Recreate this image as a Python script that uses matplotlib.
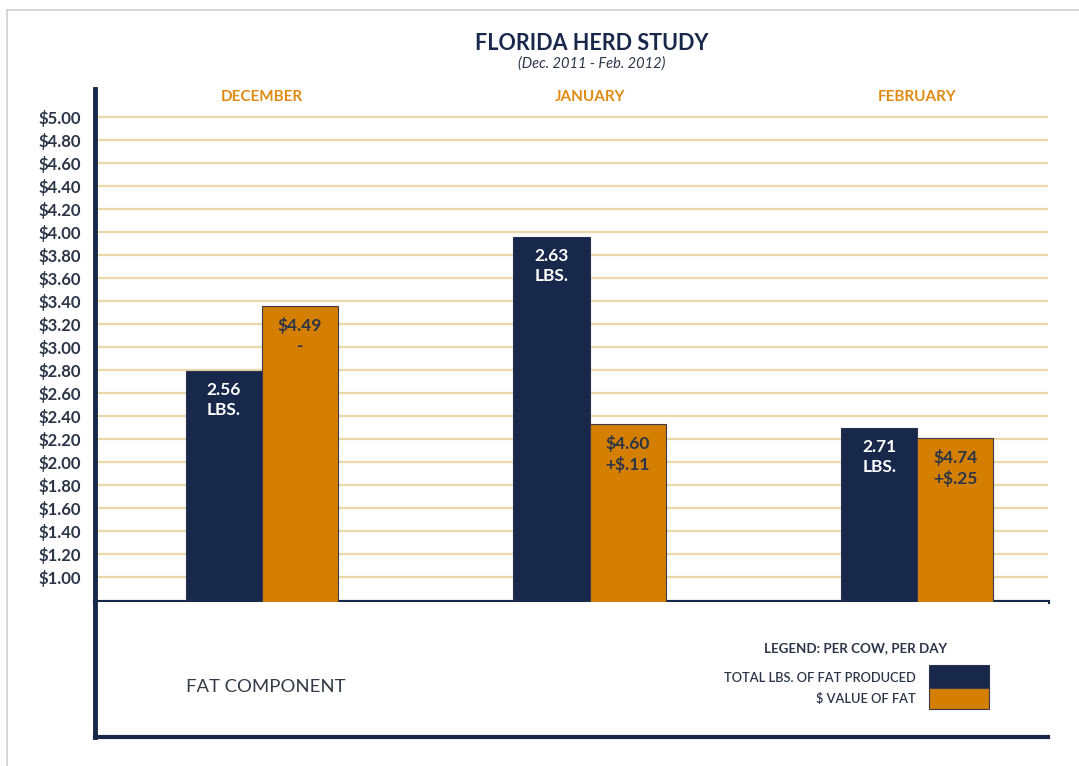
import matplotlib
matplotlib.use("Agg")
import matplotlib.pyplot as plt
from matplotlib.patches import Rectangle
from matplotlib.lines import Line2D
import numpy as np

# data
months = ["DECEMBER", "JANUARY", "FEBRUARY"]
lbs_heights = [2.79, 3.96, 2.30]      # navy bar tops on the $ scale
value_heights = [3.36, 2.33, 2.21]    # orange bar tops on the $ scale
lbs_labels = ["2.56", "2.63", "2.71"]
value_labels = ["$4.49", "$4.60", "$4.74"]
change_labels = ["-", "+$.11", "+$.25"]
yticks = np.round(np.arange(1.0, 5.01, 0.2), 2)

NAVY = "#17284b"
ORANGE = "#d47f00"
GRID = "#ebd8a8"
TEXT = "#2b3547"
plt.rcParams["font.family"] = ["Lato", "DejaVu Sans"]

W, H = 1079, 766
fig = plt.figure(figsize=(W / 100, H / 100), dpi=100)

def fx(x):
    return x / W

def fy(y):
    return 1 - y / H

# light gray frame
fig.add_artist(Line2D([fx(7), fx(7)], [fy(10), 0], color="#d0d0d0", lw=1.2))
fig.add_artist(Line2D([fx(7), 1], [fy(10), fy(10)], color="#d0d0d0", lw=1.2))

# main chart
ax = fig.add_axes([fx(95), fy(602), fx(1048) - fx(95), fy(89) - fy(602)])
x = np.arange(len(months))
w = 0.232
ax.bar(x - w / 2, lbs_heights, w, color=NAVY, edgecolor="#2a3350", lw=0.8, zorder=3)
ax.bar(x + w / 2, value_heights, w, color=ORANGE, edgecolor="#3a3a4a", lw=0.8, zorder=3)
ax.set_xlim(-0.509, 2.399)
ax.set_ylim(0.783, 5.243)
ax.set_yticks(yticks)
ax.set_yticklabels(["$%.2f" % v for v in yticks], fontsize=12, fontweight="bold", color=TEXT)
ax.tick_params(axis="y", length=0, pad=10)
ax.set_xticks([])
for v in yticks:
    ax.axhline(v, color=GRID, lw=1.6, zorder=1)
for s in ["top", "right"]:
    ax.spines[s].set_visible(False)
ax.spines["left"].set_color(NAVY)
ax.spines["left"].set_linewidth(3.5)
ax.spines["bottom"].set_color(NAVY)
ax.spines["bottom"].set_linewidth(3)

for i in range(len(months)):
    ax.annotate(lbs_labels[i] + "\nLBS.", (x[i] - w / 2, lbs_heights[i]),
                xytext=(0, -8), textcoords="offset points", ha="center", va="top",
                color="white", fontsize=12.5, fontweight="bold", linespacing=1.3, zorder=4)
    ax.annotate(value_labels[i] + "\n" + change_labels[i], (x[i] + w / 2, value_heights[i]),
                xytext=(0, -8), textcoords="offset points", ha="center", va="top",
                color=TEXT, fontsize=12.5, fontweight="bold", linespacing=1.3, zorder=4)
    ax.text(x[i], 5.17, months[i], ha="center", va="center", color="#e08a10",
            fontsize=11, fontweight="bold")

# lower section with legend
ax2 = fig.add_axes([fx(95), fy(737), fx(1048) - fx(95), fy(602) - fy(737)])
ax2.set_xlim(95, 1048)
ax2.set_ylim(737, 602)
ax2.set_xticks([])
ax2.set_yticks([])
for s in ["top", "right"]:
    ax2.spines[s].set_visible(False)
ax2.spines["left"].set_color(NAVY)
ax2.spines["left"].set_linewidth(3.5)
ax2.spines["bottom"].set_color(NAVY)
ax2.spines["bottom"].set_linewidth(3)
ax2.text(266, 687, "FAT COMPONENT", ha="center", va="center", color="#333a45", fontsize=13.3)
ax2.text(855, 648, "LEGEND: PER COW, PER DAY", ha="center", va="center", color=TEXT,
         fontsize=9.6, fontweight="bold")
ax2.text(916, 678, "TOTAL LBS. OF FAT PRODUCED", ha="right", va="center", color=TEXT,
         fontsize=9.3, fontweight="semibold")
ax2.text(916, 699, "$ VALUE OF FAT", ha="right", va="center", color=TEXT,
         fontsize=9.3, fontweight="semibold")
ax2.add_patch(Rectangle((929, 665), 60, 23, facecolor=NAVY, edgecolor="#2a3350", lw=0.8))
ax2.add_patch(Rectangle((929, 688), 60, 21, facecolor=ORANGE, edgecolor="#3a3a4a", lw=0.8))

# titles
fig.text(fx(592), fy(43), "FLORIDA HERD STUDY", ha="center", va="center", color=NAVY,
         fontsize=15.5, fontweight="bold")
fig.text(fx(592), fy(64), "(Dec. 2011 - Feb. 2012)", ha="center", va="center", color=TEXT,
         fontsize=10.5, style="italic")

fig.savefig("out.png", dpi=100)
